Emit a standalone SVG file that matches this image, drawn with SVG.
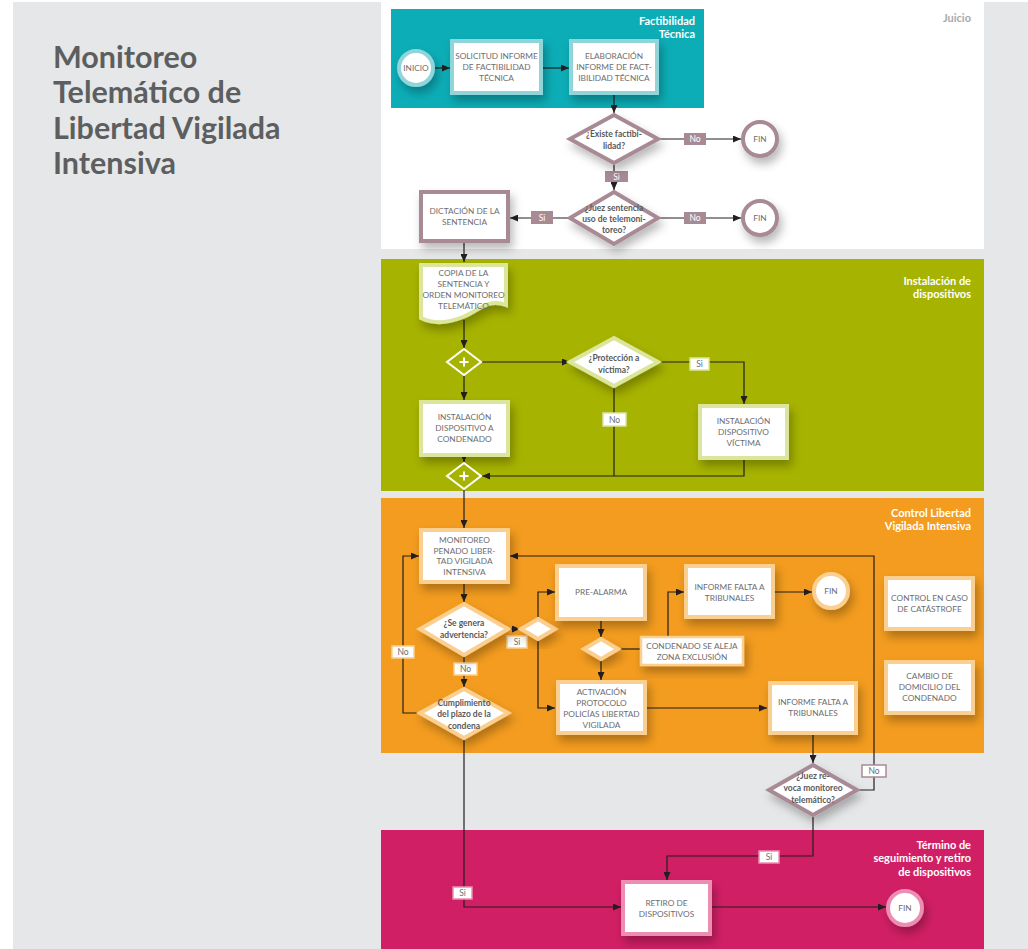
<svg xmlns="http://www.w3.org/2000/svg" width="1028" height="949" viewBox="0 0 1028 949">
<defs>
<style>
.t{font-family:Lato,"Liberation Sans",sans-serif;font-size:8.3px;fill:#6d6e71;text-anchor:middle}
.tb{font-family:Lato,"Liberation Sans",sans-serif;font-size:8.5px;fill:#58595b;text-anchor:middle;font-weight:bold}
.lane{font-family:Lato,"Liberation Sans",sans-serif;font-size:11px;fill:#fff;font-weight:bold;text-anchor:end}
.lbl{font-family:Lato,"Liberation Sans",sans-serif;font-size:8.5px;text-anchor:middle}
.c{fill:none;stroke:#231f20;stroke-width:1.2}
.ca{fill:none;stroke:#231f20;stroke-width:1.2;marker-end:url(#ah)}
.box{fill:#fff;stroke-width:4;filter:url(#sh)}
.teal{stroke:#8fd5da}
.mauve{stroke:#a88a95}
.green{stroke:#dbe59b}
.orange{stroke:#fbcf8f}
.pink{stroke:#ec8db3}
</style>
<marker id="ah" markerWidth="8" markerHeight="7" refX="8" refY="3.5" orient="auto" markerUnits="userSpaceOnUse"><path d="M0,0 L8,3.5 L0,7 z" fill="#231f20"/></marker>
<filter id="sh" x="-30%" y="-30%" width="170%" height="180%"><feDropShadow dx="3" dy="6" stdDeviation="5" flood-color="#000" flood-opacity="0.28"/></filter>
</defs>

<rect x="0" y="0" width="1028" height="949" fill="#fff"/>
<rect x="13" y="2" width="1015" height="947" fill="#e6e7e8"/>

<g id="title" font-family="Lato,'Liberation Sans',sans-serif" font-size="30.5" font-weight="bold" fill="#5d5e60">
<text x="53" y="68">Monitoreo</text>
<text x="53" y="103">Telemático de</text>
<text x="53" y="139">Libertad Vigilada</text>
<text x="53" y="174">Intensiva</text>
</g>

<g id="lanes">
<rect x="381" y="2" width="603" height="247" fill="#fff"/>
<text x="971" y="22" font-family="Lato,'Liberation Sans',sans-serif" font-size="11" font-weight="bold" fill="#a7a9ac" text-anchor="end">Juicio</text>
<rect x="391" y="9" width="313" height="99" fill="#0cadb7"/>
<text class="lane" x="695" y="25">Factibilidad</text>
<text class="lane" x="695" y="38">Técnica</text>
<rect x="381" y="259" width="603" height="232" fill="#a6b300"/>
<text class="lane" x="971" y="285">Instalación de</text>
<text class="lane" x="971" y="298">dispositivos</text>
<rect x="381" y="498" width="603" height="255" fill="#f39c1f"/>
<text class="lane" x="971" y="517">Control Libertad</text>
<text class="lane" x="971" y="530">Vigilada Intensiva</text>
<rect x="381" y="830" width="603" height="119" fill="#d11f65"/>
<text class="lane" x="971" y="849">Término de</text>
<text class="lane" x="971" y="862">seguimiento y retiro</text>
<text class="lane" x="971" y="876">de dispositivos</text>
</g>

<g id="connectors">
<path class="ca" d="M434,68 H450"/>
<path class="ca" d="M543,68 H569"/>
<path class="ca" d="M614,95 V113"/>
<path class="ca" d="M660,139 H741"/>
<path class="ca" d="M614,165 V190"/>
<path class="ca" d="M660,218 H741"/>
<path class="ca" d="M568,218 H510"/>
<path class="ca" d="M464,243 V262"/>
<path class="ca" d="M464,320 V348"/>
<path class="ca" d="M482,362 H570"/>
<path class="ca" d="M464,376 V400"/>
<path class="ca" d="M660,362 H744 V404"/>
<path class="c" d="M614,388 V476"/>
<path class="ca" d="M744,460 V476 H482"/>
<path class="ca" d="M464,457 V462"/>
<path class="ca" d="M464,490 V528"/>
<path class="ca" d="M464,584 V602"/>
<path class="ca" d="M510,629 H520"/>
<path class="ca" d="M538,617 V592 H555"/>
<path class="ca" d="M538,641 V708 H555"/>
<path class="ca" d="M601,621 V637"/>
<path class="ca" d="M601,661 V680"/>
<path class="c" d="M619,649 H640"/>
<path class="ca" d="M668,636 V592 H684"/>
<path class="ca" d="M775,592 H812"/>
<path class="ca" d="M647,708 H767"/>
<path class="ca" d="M813,735 V763"/>
<path class="ca" d="M859,790 H874 V556 H510"/>
<path class="ca" d="M813,817 V856 H667 V880"/>
<path class="ca" d="M464,657 V687"/>
<path class="ca" d="M418,713 H403 V556 H419"/>
<path class="ca" d="M464,740 V907 H621"/>
<path class="ca" d="M712,907 H886"/>
</g>

<g id="labels">
<g><rect x="684" y="133" width="22" height="12" fill="#a88a95"/><text class="lbl" x="695" y="142" fill="#fff">No</text></g>
<g><rect x="605" y="171" width="23" height="11" fill="#a88a95"/><text class="lbl" x="616.5" y="180" fill="#fff">Si</text></g>
<g><rect x="684" y="212" width="22" height="12" fill="#a88a95"/><text class="lbl" x="695" y="221" fill="#fff">No</text></g>
<g><rect x="531" y="211" width="22" height="13" fill="#a88a95"/><text class="lbl" x="542" y="221" fill="#fff">Si</text></g>
<g><rect x="690" y="358" width="19" height="12" fill="#fff" stroke="#dbe59b" stroke-width="1.5"/><text class="lbl" x="699.5" y="367" fill="#6d6e71">Si</text></g>
<g><rect x="603" y="413" width="23" height="13" fill="#fff" stroke="#dbe59b" stroke-width="1.5"/><text class="lbl" x="614.5" y="423" fill="#6d6e71">No</text></g>
<g><rect x="507" y="636" width="20" height="12" fill="#fff" stroke="#fbcf8f" stroke-width="1.5"/><text class="lbl" x="517" y="645" fill="#6d6e71">Si</text></g>
<g><rect x="454" y="663" width="23" height="12" fill="#fff" stroke="#fbcf8f" stroke-width="1.5"/><text class="lbl" x="465.5" y="672" fill="#6d6e71">No</text></g>
<g><rect x="392" y="646" width="22" height="12" fill="#fff" stroke="#fbcf8f" stroke-width="1.5"/><text class="lbl" x="403" y="655" fill="#6d6e71">No</text></g>
<g><rect x="862" y="765" width="24" height="12" fill="#fff" stroke="#a88a95" stroke-width="1.5"/><text class="lbl" x="874" y="774" fill="#6d6e71">No</text></g>
<g><rect x="759" y="851" width="20" height="12" fill="#fff" stroke="#ec8db3" stroke-width="1.5"/><text class="lbl" x="769" y="860" fill="#6d6e71">Si</text></g>
<g><rect x="453" y="887" width="19" height="12" fill="#fff" stroke="#ec8db3" stroke-width="1.5"/><text class="lbl" x="462.5" y="896" fill="#6d6e71">Si</text></g>
</g>

<g id="inicio"><circle class="box teal" cx="416" cy="68" r="17"/><text class="t" x="416" y="71">INICIO</text></g>
<g id="solicitud"><rect class="box teal" x="452" y="41" width="89" height="52"/><text class="t" x="496.5" y="59">SOLICITUD INFORME</text><text class="t" x="496.5" y="70">DE FACTIBILIDAD</text><text class="t" x="496.5" y="81">TÉCNICA</text></g>
<g id="elaboracion"><rect class="box teal" x="571" y="41" width="86" height="52"/><text class="t" x="614" y="59">ELABORACIÓN</text><text class="t" x="614" y="70">INFORME DE FACT-</text><text class="t" x="614" y="81">IBILIDAD TÉCNICA</text></g>
<g id="existe"><polygon class="box mauve" points="614,115 658,139 614,163 570,139"/><text class="tb" x="614" y="137">¿Existe factibi-</text><text class="tb" x="614" y="149">lidad?</text></g>
<g id="fin1"><circle class="box mauve" cx="760" cy="139" r="17"/><text class="t" x="760" y="142">FIN</text></g>
<g id="juez"><polygon class="box mauve" points="614,192 658,218 614,244 570,218"/><text class="tb" x="614" y="211">¿Juez sentencia</text><text class="tb" x="614" y="222">uso de telemoni-</text><text class="tb" x="614" y="233">toreo?</text></g>
<g id="fin2"><circle class="box mauve" cx="760" cy="218" r="17"/><text class="t" x="760" y="221">FIN</text></g>
<g id="dictacion"><rect class="box mauve" x="421" y="192" width="87" height="49"/><text class="t" x="464.5" y="214">DICTACIÓN DE LA</text><text class="t" x="464.5" y="225">SENTENCIA</text></g>

<g id="copia"><path class="box green" d="M421,265 H506 V305 C488,298 478,311 463,317 C448,323 433,324 421,318 Z"/><text class="t" x="463.5" y="276">COPIA DE LA</text><text class="t" x="463.5" y="287">SENTENCIA Y</text><text class="t" x="463.5" y="298">ORDEN MONITOREO</text><text class="t" x="463.5" y="309">TELEMÁTICO</text></g>
<g id="gw1"><polygon points="464,349 481,362 464,375 447,362" fill="#a6b300" stroke="#fff" stroke-width="2"/><path d="M464,357.5 V366.5 M459.5,362 H468.5" stroke="#fff" stroke-width="2"/></g>
<g id="proteccion"><polygon class="box green" points="614,338 658,362 614,386 570,362"/><text class="tb" x="614" y="361">¿Protección a</text><text class="tb" x="614" y="373">víctima?</text></g>
<g id="instcond"><rect class="box green" x="421" y="402" width="87" height="53"/><text class="t" x="464.5" y="420">INSTALACIÓN</text><text class="t" x="464.5" y="431">DISPOSITIVO A</text><text class="t" x="464.5" y="442">CONDENADO</text></g>
<g id="instvict"><rect class="box green" x="700" y="406" width="87" height="52"/><text class="t" x="743.5" y="424">INSTALACIÓN</text><text class="t" x="743.5" y="435">DISPOSITIVO</text><text class="t" x="743.5" y="446">VÍCTIMA</text></g>
<g id="gw2"><polygon points="464,463 481,476 464,489 447,476" fill="#a6b300" stroke="#fff" stroke-width="2"/><path d="M464,471.5 V480.5 M459.5,476 H468.5" stroke="#fff" stroke-width="2"/></g>

<g id="monitoreo"><rect class="box orange" x="421" y="530" width="87" height="52"/><text class="t" x="464.5" y="543">MONITOREO</text><text class="t" x="464.5" y="554">PENADO LIBER-</text><text class="t" x="464.5" y="564">TAD VIGILADA</text><text class="t" x="464.5" y="575">INTENSIVA</text></g>
<g id="segenera"><polygon class="box orange" points="464,604 508,629 464,655 420,629"/><text class="tb" x="464" y="626">¿Se genera</text><text class="tb" x="464" y="638">advertencia?</text></g>
<g id="gw3"><polygon class="box orange" points="538,619 555,629 538,639 521,629" stroke-width="2.5"/></g>
<g id="prealarma"><rect class="box orange" x="557" y="566" width="88" height="53"/><text class="t" x="601" y="595">PRE-ALARMA</text></g>
<g id="gw4"><polygon class="box orange" points="601,639 618,649 601,659 584,649" stroke-width="2.5"/></g>
<g id="aleja"><rect x="641" y="637" width="102" height="28" fill="#fff" stroke="#fbcf8f" stroke-width="2.5" filter="url(#sh)"/><text class="t" x="692" y="649">CONDENADO SE ALEJA</text><text class="t" x="692" y="660">ZONA EXCLUSIÓN</text></g>
<g id="informe1"><rect class="box orange" x="686" y="566" width="87" height="51"/><text class="t" x="729.5" y="590">INFORME FALTA A</text><text class="t" x="729.5" y="601">TRIBUNALES</text></g>
<g id="fin3"><circle class="box orange" cx="831" cy="591" r="17"/><text class="t" x="831" y="594">FIN</text></g>
<g id="activacion"><rect class="box orange" x="558" y="682" width="87" height="51"/><text class="t" x="601.5" y="695">ACTIVACIÓN</text><text class="t" x="601.5" y="706">PROTOCOLO</text><text class="t" x="601.5" y="717">POLICÍAS LIBERTAD</text><text class="t" x="601.5" y="728">VIGILADA</text></g>
<g id="informe2"><rect class="box orange" x="770" y="683" width="86" height="50"/><text class="t" x="813" y="705">INFORME FALTA A</text><text class="t" x="813" y="716">TRIBUNALES</text></g>
<g id="catastrofe"><rect class="box orange" x="886" y="578" width="87" height="51"/><text class="t" x="929.5" y="601">CONTROL EN CASO</text><text class="t" x="929.5" y="612">DE CATÁSTROFE</text></g>
<g id="domicilio"><rect class="box orange" x="886" y="662" width="87" height="51"/><text class="t" x="929.5" y="679">CAMBIO DE</text><text class="t" x="929.5" y="690">DOMICILIO DEL</text><text class="t" x="929.5" y="701">CONDENADO</text></g>
<g id="cumplimiento"><polygon class="box orange" points="464,689 508,713 464,738 420,713"/><text class="tb" x="464" y="706">Cumplimiento</text><text class="tb" x="464" y="717">del plazo de la</text><text class="tb" x="464" y="729">condena</text></g>
<g id="revoca"><polygon class="box mauve" points="813,765 857,790 813,815 769,790"/><text class="tb" x="813" y="779">¿Juez re-</text><text class="tb" x="813" y="791">voca monitoreo</text><text class="tb" x="813" y="803">telemático?</text></g>

<g id="retiro"><rect class="box pink" x="623" y="882" width="87" height="52"/><text class="t" x="666.5" y="906">RETIRO DE</text><text class="t" x="666.5" y="917">DISPOSITIVOS</text></g>
<g id="fin4"><circle class="box pink" cx="905" cy="908" r="17"/><text class="t" x="905" y="911">FIN</text></g>
</svg>
